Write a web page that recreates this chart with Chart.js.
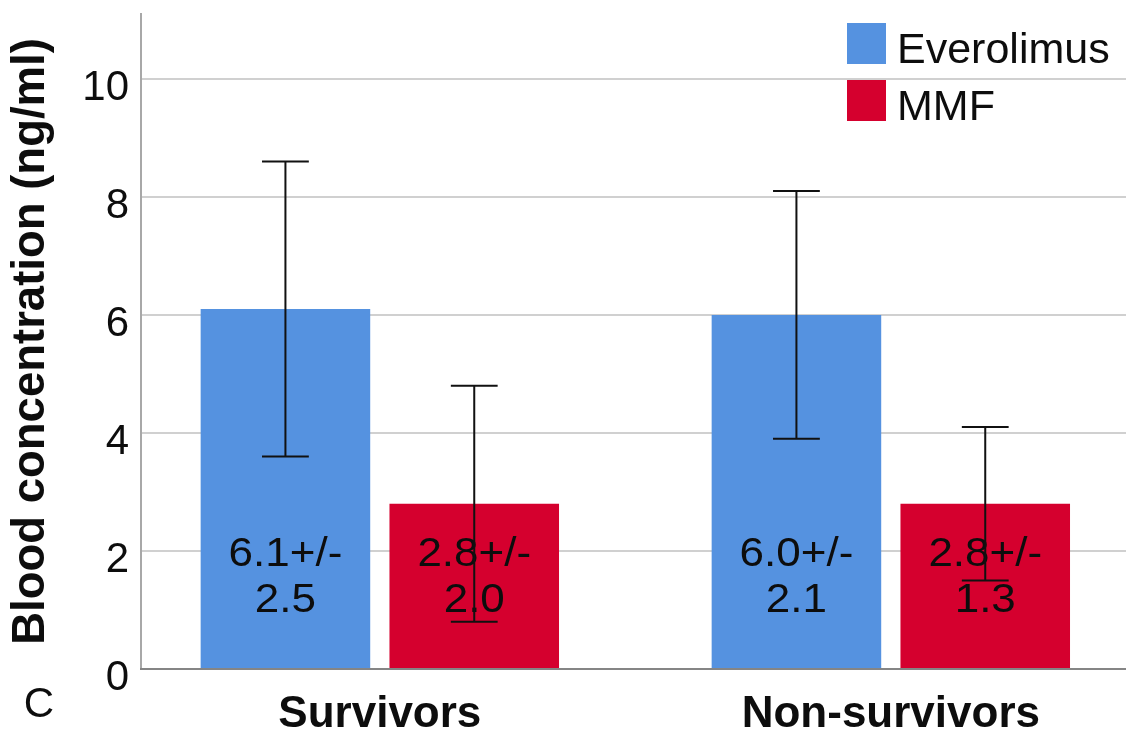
<!DOCTYPE html>
<html>
<head>
<meta charset="utf-8">
<script src="https://cdn.jsdelivr.net/npm/chart.js@4.4.1/dist/chart.umd.min.js"></script>
<style>
  html, body { margin: 0; padding: 0; background: #ffffff; overflow: hidden; }
  #wrap { width: 1126px; height: 731px; position: relative; }
</style>
</head>
<body>
<div id="wrap"><canvas id="chart" width="1126" height="731"></canvas></div>
<script>
// Group labels and series
const categories = ['Survivors', 'Non-survivors'];
const seriesNames = ['Everolimus', 'MMF'];

// Mean blood concentration (ng/ml) and standard deviation per group
const everolimusMean = [6.1, 6.0];
const everolimusSD = [2.5, 2.1];
const mmfMean = [2.8, 2.8];
const mmfSD = [2.0, 1.3];

// Value axis ticks
const yTicks = [0, 2, 4, 6, 8, 10];
const panelLetter = 'C';

const FONT = '"Liberation Sans", Arial, Helvetica, sans-serif';
const colors = ['#5592E0', '#D5002E'];
const INK = '#0d0d0d';

function toPoints(means) {
  return categories.map((c, i) => ({ x: i, y: means[i] }));
}

// Error bars (mean +/- SD) plus the "mean+/- SD" text inside each bar
const errorBarPlugin = {
  id: 'errorBars',
  afterDatasetsDraw(chart, args, opts) {
    const ctx = chart.ctx;
    const yScale = chart.scales.y;
    chart.data.datasets.forEach((ds, di) => {
      const meta = chart.getDatasetMeta(di);
      meta.data.forEach((bar, i) => {
        const mean = ds.data[i].y;
        const sd = ds.sd[i];
        // value text, slightly widened
        const size = opts.labelSize;
        const mid = yScale.getPixelForValue(opts.labelAnchor);
        const gap = opts.lineGap;
        const capHalf = size * 0.358;
        ctx.save();
        ctx.translate(bar.x, mid);
        ctx.scale(opts.stretch, 1);
        ctx.font = size + 'px ' + FONT;
        ctx.fillStyle = INK;
        ctx.textAlign = 'center';
        ctx.textBaseline = 'alphabetic';
        ctx.fillText(mean.toFixed(1) + '+/-', 0, -gap / 2 + capHalf);
        ctx.fillText(sd.toFixed(1), 0, gap / 2 + capHalf);
        ctx.restore();
        // whisker
        const top = yScale.getPixelForValue(mean + sd);
        const bottom = yScale.getPixelForValue(mean - sd);
        const half = bar.width * 0.138;
        ctx.save();
        ctx.strokeStyle = '#111111';
        ctx.lineWidth = 2;
        ctx.beginPath();
        ctx.moveTo(bar.x, top); ctx.lineTo(bar.x, bottom);
        ctx.moveTo(bar.x - half, top); ctx.lineTo(bar.x + half, top);
        ctx.moveTo(bar.x - half, bottom); ctx.lineTo(bar.x + half, bottom);
        ctx.stroke();
        ctx.restore();
      });
    });
  }
};

// Legend in the upper right corner and the panel letter
const legendPlugin = {
  id: 'cornerLegend',
  afterDraw(chart, args, opts) {
    const ctx = chart.ctx;
    ctx.save();
    chart.data.datasets.forEach((ds, i) => {
      const y = opts.top + i * opts.rowStep;
      ctx.fillStyle = ds.backgroundColor;
      ctx.fillRect(opts.left, y, opts.box, opts.box + 2);
      ctx.fillStyle = INK;
      ctx.font = opts.fontSize + 'px ' + FONT;
      ctx.textAlign = 'left';
      ctx.textBaseline = 'alphabetic';
      ctx.fillText(ds.label, opts.left + opts.box + 11, y + opts.box + 1);
    });
    ctx.font = '42px ' + FONT;
    ctx.textAlign = 'center';
    ctx.textBaseline = 'alphabetic';
    ctx.fillStyle = INK;
    ctx.fillText(panelLetter, 39, 717);
    ctx.restore();
  }
};

new Chart(document.getElementById('chart'), {
  type: 'bar',
  data: {
    datasets: [
      { label: seriesNames[0], data: toPoints(everolimusMean), sd: everolimusSD, backgroundColor: colors[0], borderWidth: 0 },
      { label: seriesNames[1], data: toPoints(mmfMean), sd: mmfSD, backgroundColor: colors[1], borderWidth: 0 }
    ]
  },
  options: {
    responsive: false,
    devicePixelRatio: 1,
    animation: false,
    categoryPercentage: 0.739,
    barPercentage: 0.898,
    layout: { padding: { top: 14, left: 0, right: 0, bottom: 0 } },
    plugins: {
      legend: { display: false },
      tooltip: { enabled: false },
      errorBars: { labelSize: 40, stretch: 1.1, labelAnchor: 1.6, lineGap: 45.5 },
      cornerLegend: { left: 847, top: 23, rowStep: 57, box: 39, fontSize: 43 }
    },
    scales: {
      x: {
        type: 'linear',
        min: -0.4674,
        max: 1.4602,
        offset: false,
        afterBuildTicks: s => { s.ticks = categories.map((c, i) => ({ value: i })); },
        afterFit: s => { s.height = 62; s.paddingLeft = 0; s.paddingRight = 0; },
        grid: { display: false, drawTicks: false },
        border: { display: true, color: '#858585', width: 2, z: 1 },
        ticks: {
          callback: v => categories[v],
          font: { family: FONT, size: 44, weight: 'bold' },
          color: INK,
          padding: 19,
          maxRotation: 0,
          autoSkip: false
        }
      },
      y: {
        min: 0,
        max: 11.1,
        afterBuildTicks: s => { s.ticks = yTicks.map(v => ({ value: v })); },
        afterFit: s => { s.width = 141; s.paddingTop = 0; s.paddingBottom = 0; },
        grid: { color: '#d0d0d0', lineWidth: 2, drawTicks: false },
        border: { color: '#a8a8a8', width: 2 },
        ticks: {
          font: { family: FONT, size: 42 },
          color: INK,
          padding: 12,
          labelOffset: 9.5
        },
        title: {
          display: true,
          text: 'Blood concentration (ng/ml)',
          font: { family: FONT, size: 45.5, weight: 'bold' },
          color: INK,
          padding: { top: 4, bottom: 0 }
        }
      }
    }
  },
  plugins: [errorBarPlugin, legendPlugin]
});
</script>
</body>
</html>
